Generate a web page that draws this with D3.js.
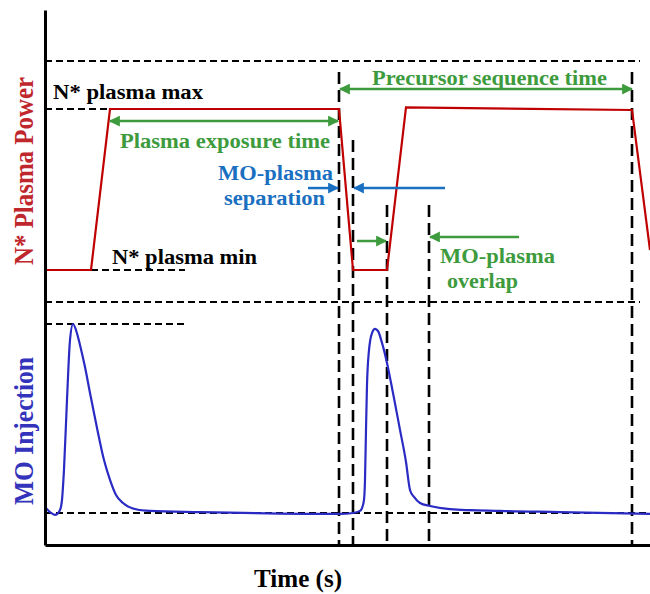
<!DOCTYPE html>
<html><head><meta charset="utf-8">
<script src="https://cdn.jsdelivr.net/npm/d3@7"></script>
<style>body{margin:0;background:#fff}svg{display:block}text{font-family:"Liberation Serif","Times New Roman",serif;font-weight:bold}</style>
</head><body>
<svg id="c" width="650" height="594"></svg>
<script>
// ---- data (arbitrary time units, normalized signals) ----
const plasmaTime  = [0, 4.6, 6.5, 29.4, 30.8, 34.2, 36.1, 58.7, 60.5];
const plasmaPower = [0, 0, 1, 1, 0, 0, 1.01, 0.994, 0.124];

const moTime   = [0,0.5,1,1.5,1.7,1.9,2.2,2.5,2.8,3.1,3.5,4.0,4.5,5.2,5.9,6.5,7.1,7.8,9.0,10.5,15.5,29.5,30.8,31.5,31.7,31.9,32.0,32.1,32.2,32.4,32.7,33.0,33.3,33.7,34.2,34.8,35.5,36.1,36.5,36.9,37.5,38.5,40.5,45.5,51.5,60.5];
const moSignal = [0.032,0.005,-0.01,0.016,0.069,0.23,0.60,0.915,1.0,0.968,0.889,0.772,0.635,0.45,0.28,0.175,0.095,0.053,0.021,0.011,0.005,-0.005,0,0.011,0.026,0.069,0.175,0.44,0.677,0.862,0.952,0.974,0.963,0.9,0.794,0.635,0.44,0.27,0.122,0.085,0.053,0.037,0.021,0.011,0.005,-0.005];

// vertical event markers: time and top (in plasma-power units)
const markerTimes = [29.4, 30.8, 34.2, 38.4, 58.7];
const markerTops  = [1.23, 0.807, 0.404, 0.404, 1.23];

// horizontal reference levels
const plasmaRefs = [ {label:"top", v:1.298, t0:0, t1:59.5}, {label:"max", v:1, t0:0, t1:14}, {label:"min", v:0, t0:4.6, t1:14} ];
const moRefs     = [ {label:"divider", v:1.116, t0:0, t1:59.5}, {label:"peak", v:1, t0:0, t1:14}, {label:"base", v:0, t0:0, t1:60.5} ];

// annotation arrows (plasma-power units)
const arrows = [
  {t0:6.5,  t1:29.3, v:0.925, both:true,  color:"green"},
  {t0:29.5, t1:58.7, v:1.124, both:true,  color:"green"},
  {t0:26.3, t1:29.3, v:0.509, both:false, color:"blue"},
  {t0:40.0, t1:30.9, v:0.509, both:false, color:"blue"},
  {t0:31.2, t1:34.1, v:0.18,  both:false, color:"green"},
  {t0:47.4, t1:38.5, v:0.205, both:false, color:"green"}
];

const labels = [
  {text:"N* plasma max", t:0.8, v:1.062, w:150, color:"black"},
  {text:"N* plasma min", t:6.7, v:0.037, w:145, color:"black"},
  {text:"Plasma exposure time", t:7.5, v:0.758, w:210, color:"green"},
  {text:"MO-plasma", t:17.3, v:0.56, w:115, color:"blue"},
  {text:"separation", t:17.9, v:0.404, w:101, color:"blue"},
  {text:"Precursor sequence time", t:32.7, v:1.149, w:235, color:"green"},
  {text:"MO-plasma", t:39.5, v:0.043, w:115, color:"green"},
  {text:"overlap", t:40.2, v:-0.11, w:71, color:"green"}
];

const colors = {black:"#000", green:"#3d9b3d", blue:"#1b6fc1", red:"#c00000", curve:"#2a2ac4"};

// ---- scales ----
const svg = d3.select("#c");
const x = d3.scaleLinear().domain([0, 60.5]).range([45, 650]);
const yP = d3.scaleLinear().domain([0, 1]).range([270, 109]);
const yM = d3.scaleLinear().domain([0, 1]).range([513, 324]);
const yAxisScale = d3.scaleLinear().domain([0, 1]).range([545, 10]);

// defs: arrowheads
const defs = svg.append("defs");
Object.entries(colors).forEach(([k,c])=>{
  defs.append("marker").attr("id","ah-"+k).attr("viewBox","0 0 10 10").attr("refX",9).attr("refY",5)
    .attr("markerWidth",4.4).attr("markerHeight",4.4).attr("orient","auto-start-reverse").attr("markerUnits","strokeWidth")
    .append("path").attr("d","M0,0L10,5L0,10z").attr("fill",c);
});

// reference dashed lines
const hdash = svg.append("g").attr("stroke","#000").attr("stroke-width",2).attr("stroke-dasharray","7,4").attr("fill","none");
plasmaRefs.forEach(r=>hdash.append("line").attr("x1",x(r.t0)).attr("x2",x(r.t1)).attr("y1",yP(r.v)).attr("y2",yP(r.v)));
moRefs.forEach(r=>hdash.append("line").attr("x1",x(r.t0)).attr("x2",x(r.t1)).attr("y1",yM(r.v)).attr("y2",yM(r.v)));

// vertical markers
svg.append("g").attr("stroke","#000").attr("stroke-width",2.6).attr("stroke-dasharray","12,6")
  .selectAll("line").data(markerTimes).join("line")
  .attr("x1",d=>x(d)).attr("x2",d=>x(d)).attr("y1",(d,i)=>yP(markerTops[i])).attr("y2",yAxisScale(0));

// plasma power line
svg.append("path").datum(plasmaTime.map((t,i)=>[t,plasmaPower[i]]))
  .attr("fill","none").attr("stroke",colors.red).attr("stroke-width",2.2)
  .attr("d", d3.line().x(d=>x(d[0])).y(d=>yP(d[1])));

// MO injection curve
svg.append("path").datum(moTime.map((t,i)=>[t,moSignal[i]]))
  .attr("fill","none").attr("stroke",colors.curve).attr("stroke-width",2.2)
  .attr("d", d3.line().curve(d3.curveMonotoneX).x(d=>x(d[0])).y(d=>yM(d[1])));

// arrows
arrows.forEach(a=>{
  const ln = svg.append("line").attr("x1",x(a.t0)).attr("x2",x(a.t1)).attr("y1",yP(a.v)).attr("y2",yP(a.v))
    .attr("stroke",colors[a.color]).attr("stroke-width",2.5).attr("marker-end","url(#ah-"+a.color+")");
  if(a.both) ln.attr("marker-start","url(#ah-"+a.color+")");
});

// axes
const gx = svg.append("g").attr("transform",`translate(0,${yAxisScale(0)})`)
  .call(d3.axisBottom(x).tickValues([]).tickSizeOuter(0));
const gy = svg.append("g").attr("transform",`translate(${x(0)},0)`)
  .call(d3.axisLeft(yAxisScale).tickValues([]).tickSizeOuter(0));
[gx,gy].forEach(g=>g.select(".domain").attr("stroke","#000").attr("stroke-width",3));

// labels
labels.forEach(l=>{
  svg.append("text").attr("x",x(l.t)).attr("y",yP(l.v)).attr("fill",colors[l.color])
    .attr("font-size",20).attr("textLength",l.w).attr("lengthAdjust","spacingAndGlyphs").text(l.text);
});

// axis titles
svg.append("text").attr("x",298).attr("y",587).attr("text-anchor","middle").attr("font-size",26)
  .attr("textLength",88).attr("lengthAdjust","spacingAndGlyphs").attr("fill","#000").text("Time (s)");
svg.append("text").attr("transform","translate(33,171) rotate(-90)").attr("text-anchor","middle")
  .attr("font-size",27).attr("textLength",188).attr("lengthAdjust","spacingAndGlyphs").attr("fill","#c0272d").text("N* Plasma Power");
svg.append("text").attr("transform","translate(33,431) rotate(-90)").attr("text-anchor","middle")
  .attr("font-size",27).attr("textLength",148).attr("lengthAdjust","spacingAndGlyphs").attr("fill","#3333bb").text("MO Injection");
</script>
</body></html>
